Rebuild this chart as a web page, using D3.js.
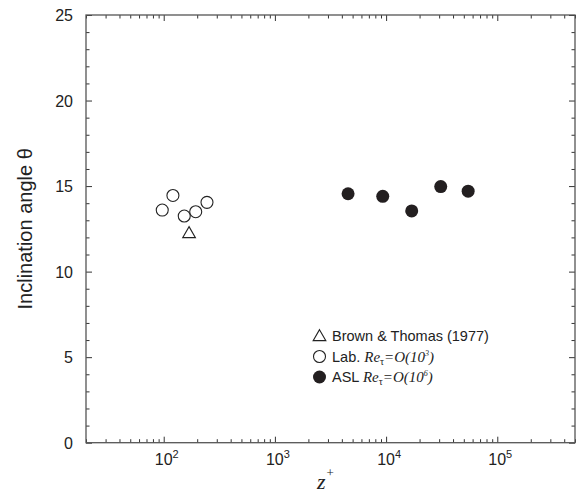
<!DOCTYPE html>
<html>
<head>
<meta charset="utf-8">
<script src="https://d3js.org/d3.v7.min.js"></script>
<style>
    body { margin: 0; background: #fff; }
    .axis path { stroke: #555; stroke-width: 1.3; }
    .axis line { stroke: #333; stroke-width: 1; }
    .ticklab { font-family: "Liberation Sans", Arial, sans-serif; font-size: 16px; fill: #222; }
</style>
</head>
<body>
<svg id="chart"></svg>
<script>
    // data
    const labZ = [97, 121, 153, 194, 245];
    const labTheta = [13.6, 14.45, 13.25, 13.5, 14.05];
    const aslZ = [4550, 9330, 17000, 31000, 54700];
    const aslTheta = [14.55, 14.4, 13.55, 14.97, 14.7];
    const brownZ = [169];
    const brownTheta = [12.2];

    const xDecades = [2, 3, 4, 5];
    const yTicks = [0, 5, 10, 15, 20, 25];
    const legendItems = [
        {sym: 'tri', text: 'Brown & Thomas (1977)'},
        {sym: 'open', text: 'Lab. ', exp: '3'},
        {sym: 'fill', text: 'ASL ', exp: '6'}
    ];

    const width = 581, height = 494;
    const margins = {top: 15, right: 6, bottom: 51.3, left: 86};
    const chartWidth = width - margins.left - margins.right;
    const chartHeight = height - margins.top - margins.bottom;

    let svg = d3.select('svg#chart')
                .attr('width', width)
                .attr('height', height);

    let chartArea = svg.append('g')
                       .attr('transform', `translate(${margins.left}, ${margins.top})`);

    const xScale = d3.scaleLog()
                     .domain([20, 5e5])
                     .range([0, chartWidth]);
    const yScale = d3.scaleLinear()
                     .domain([0, 25])
                     .range([chartHeight, 0]);

    // minor ticks for the log axis
    let xMinor = [];
    for (let e = 1; e <= 5; e++) {
        for (let m = 2; m <= 9; m++) {
            let v = m * Math.pow(10, e);
            if (v >= 20 && v <= 5e5) xMinor.push(v);
        }
    }
    let xMajor = xDecades.map(d => Math.pow(10, d));
    let yMinor = d3.range(0, 26, 1).filter(d => d % 5 != 0);

    function addAxis(axis, transform) {
        let g = chartArea.append('g')
                         .attr('class', 'axis')
                         .attr('transform', transform)
                         .call(axis);
        g.select('.domain').remove();
        return g;
    }

    // bottom and top ticks
    addAxis(d3.axisBottom(xScale).tickValues(xMajor).tickSize(-6).tickFormat(''), `translate(0, ${chartHeight})`);
    addAxis(d3.axisBottom(xScale).tickValues(xMinor).tickSize(-3.5).tickFormat(''), `translate(0, ${chartHeight})`);
    addAxis(d3.axisTop(xScale).tickValues(xMajor).tickSize(-6).tickFormat(''), 'translate(0, 0)');
    addAxis(d3.axisTop(xScale).tickValues(xMinor).tickSize(-3.5).tickFormat(''), 'translate(0, 0)');
    // left and right ticks
    addAxis(d3.axisLeft(yScale).tickValues(yTicks).tickSize(-6).tickFormat(''), 'translate(0, 0)');
    addAxis(d3.axisLeft(yScale).tickValues(yMinor).tickSize(-3.5).tickFormat(''), 'translate(0, 0)');
    addAxis(d3.axisRight(yScale).tickValues(yTicks).tickSize(-6).tickFormat(''), `translate(${chartWidth}, 0)`);
    addAxis(d3.axisRight(yScale).tickValues(yMinor).tickSize(-3.5).tickFormat(''), `translate(${chartWidth}, 0)`);

    // frame
    chartArea.append('rect')
             .attr('width', chartWidth)
             .attr('height', chartHeight)
             .attr('fill', 'none')
             .attr('stroke', '#555')
             .attr('stroke-width', 1.3);

    // tick labels
    yTicks.forEach(t => {
        chartArea.append('text')
                 .attr('class', 'ticklab')
                 .attr('x', -13)
                 .attr('y', yScale(t) + 6)
                 .attr('text-anchor', 'end')
                 .text(t);
    });
    xDecades.forEach(d => {
        let t = chartArea.append('text')
                         .attr('class', 'ticklab')
                         .attr('x', xScale(Math.pow(10, d)) + 3)
                         .attr('y', chartHeight + 22)
                         .attr('text-anchor', 'middle');
        t.append('tspan').text('10');
        t.append('tspan').attr('dy', -7).style('font-size', '11px').text(d);
    });

    // axis titles
    svg.append('text')
       .attr('transform', `translate(32, ${margins.top + chartHeight / 2}) rotate(-90)`)
       .attr('text-anchor', 'middle')
       .style('font-family', '"Liberation Sans", Arial, sans-serif')
       .style('font-size', '20px')
       .style('fill', '#222')
       .text('Inclination angle θ');

    let xt = svg.append('text')
                .attr('x', 317)
                .attr('y', 489)
                .style('font-family', '"Liberation Serif", "Times New Roman", serif')
                .style('font-style', 'italic')
                .style('font-size', '22px')
                .style('fill', '#222');
    xt.append('tspan').text('z');
    xt.append('tspan').attr('dy', -12).attr('dx', 1).style('font-size', '13px').style('font-style', 'normal').text('+');

    // data marks
    labZ.forEach((z, i) => {
        chartArea.append('circle')
                 .attr('cx', xScale(z))
                 .attr('cy', yScale(labTheta[i]))
                 .attr('r', 6)
                 .attr('fill', 'none')
                 .attr('stroke', '#222')
                 .attr('stroke-width', 1.1);
    });
    aslZ.forEach((z, i) => {
        chartArea.append('circle')
                 .attr('cx', xScale(z))
                 .attr('cy', yScale(aslTheta[i]))
                 .attr('r', 6.5)
                 .attr('fill', '#231f20');
    });
    const triPath = d3.symbol().type(d3.symbolTriangle).size(70);
    brownZ.forEach((z, i) => {
        chartArea.append('path')
                 .attr('d', triPath)
                 .attr('transform', `translate(${xScale(z)}, ${yScale(brownTheta[i])})`)
                 .attr('fill', 'none')
                 .attr('stroke', '#222')
                 .attr('stroke-width', 1.1);
    });

    // legend
    legendItems.forEach((d, i) => {
        let cy = 336 + i * 20.5;
        let g = svg.append('g');
        if (d.sym == 'tri') {
            g.append('path').attr('d', triPath)
             .attr('transform', `translate(319.5, ${cy + 1})`)
             .attr('fill', 'none').attr('stroke', '#222').attr('stroke-width', 1.1);
        } else if (d.sym == 'open') {
            g.append('circle').attr('cx', 319.5).attr('cy', cy).attr('r', 6)
             .attr('fill', 'none').attr('stroke', '#222').attr('stroke-width', 1.1);
        } else {
            g.append('circle').attr('cx', 319.5).attr('cy', cy).attr('r', 6.5)
             .attr('fill', '#231f20');
        }
        let t = g.append('text')
                 .attr('x', 332)
                 .attr('y', cy + 5)
                 .style('font-family', '"Liberation Sans", Arial, sans-serif')
                 .style('font-size', '14.5px')
                 .style('fill', '#222');
        t.append('tspan').text(d.text);
        if (d.exp) {
            let serif = '"Liberation Serif", "Times New Roman", serif';
            t.append('tspan').style('font-family', serif).style('font-style', 'italic').style('font-size', '15px').text('Re');
            t.append('tspan').attr('dy', 3).style('font-family', serif).style('font-size', '10px').text('τ');
            t.append('tspan').attr('dy', -3).style('font-family', serif).style('font-style', 'italic').style('font-size', '15px').text('=O(10');
            t.append('tspan').attr('dy', -6).style('font-family', serif).style('font-style', 'italic').style('font-size', '8px').text(d.exp);
            t.append('tspan').attr('dy', 6).style('font-family', serif).style('font-style', 'italic').style('font-size', '15px').text(')');
        }
    });
</script>
</body>
</html>
